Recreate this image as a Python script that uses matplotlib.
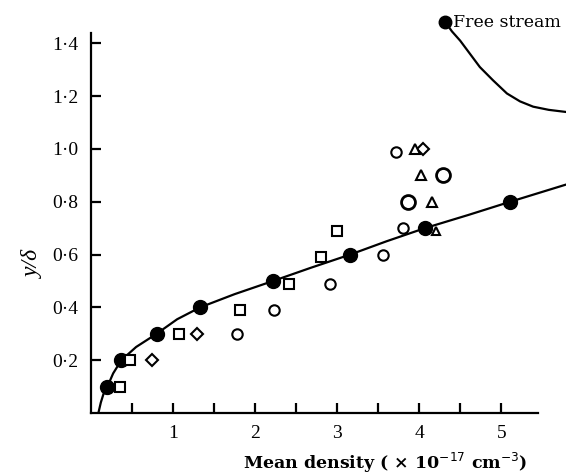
import matplotlib
matplotlib.use('Agg')
import matplotlib.pyplot as plt
from matplotlib.ticker import FixedLocator, FixedFormatter

# Mean density profile across the layer
filled_x = [0.20, 0.37, 0.80, 1.33, 2.22, 3.16, 4.07, 5.11]
filled_y = [0.1, 0.2, 0.3, 0.4, 0.5, 0.6, 0.7, 0.8]

# faired curve through the filled points
curve_x = [0.09, 0.12, 0.15, 0.20, 0.27, 0.37, 0.55, 0.80, 1.05, 1.33, 1.75, 2.22, 2.68, 3.16, 3.60, 4.07, 4.60, 5.11, 5.79]
curve_y = [0.0, 0.04, 0.07, 0.1, 0.15, 0.2, 0.25, 0.3, 0.355, 0.4, 0.45, 0.5, 0.55, 0.6, 0.65, 0.7, 0.75, 0.8, 0.865]

# free stream value and its curve
fs_x = [4.32]
fs_y = [1.48]
fs_curve_x = [4.32, 4.40, 4.50, 4.62, 4.74, 4.90, 5.07, 5.23, 5.39, 5.58, 5.79]
fs_curve_y = [1.48, 1.445, 1.41, 1.36, 1.31, 1.26, 1.21, 1.18, 1.16, 1.148, 1.14]

# other runs
sq_x = [0.35, 0.48, 1.07, 1.82, 2.41, 2.80, 3.00]
sq_y = [0.1, 0.2, 0.3, 0.39, 0.49, 0.59, 0.69]
dia_x = [0.74, 1.29, 4.05]
dia_y = [0.2, 0.3, 1.0]
circ_x = [1.78, 2.23, 2.91, 3.56, 3.80, 3.72]
circ_y = [0.3, 0.39, 0.49, 0.6, 0.7, 0.99]
bigcirc_x = [3.87, 4.29]
bigcirc_y = [0.8, 0.9]
tri_x = [3.95, 4.02, 4.16]
tri_y = [1.0, 0.9, 0.8]
smalltri_x = [4.21]
smalltri_y = [0.69]

xticks = [1, 2, 3, 4, 5]
xminor = [0.5, 1.5, 2.5, 3.5, 4.5]
yticks = [0.2, 0.4, 0.6, 0.8, 1.0, 1.2, 1.4]
ylabels = ['0·2', '0·4', '0·6', '0·8', '1·0', '1·2', '1·4']

serif = ['Liberation Serif', 'DejaVu Serif']

fig = plt.figure(figsize=(5.66, 4.76), dpi=100)
ax = fig.add_axes([91 / 566, 63 / 476, 475 / 566, 413 / 476])
ax.set_xlim(0, 5.79)
ax.set_ylim(0, 1.564)

ax.plot(curve_x, curve_y, color='black', lw=1.6, solid_capstyle='round')
ax.plot(filled_x, filled_y, 'o', color='black', ms=10)
ax.plot(fs_curve_x, fs_curve_y, color='black', lw=1.6)
ax.plot(fs_x, fs_y, 'o', color='black', ms=9)
ax.text(4.41, 1.48, 'Free stream', family=['DejaVu Serif'], fontsize=12.5, va='center', ha='left')

open_kw = dict(linestyle='none', mfc='white', mec='black', mew=1.5)
ax.plot(sq_x, sq_y, 's', ms=6.5, **open_kw)
ax.plot(dia_x, dia_y, 'D', ms=6, **open_kw)
ax.plot(circ_x, circ_y, 'o', ms=7.5, **open_kw)
ax.plot(bigcirc_x, bigcirc_y, 'o', ms=10, mfc='white', mec='black', mew=2, linestyle='none')
ax.plot(tri_x, tri_y, '^', ms=7.5, **open_kw)
ax.plot(smalltri_x, smalltri_y, '^', ms=6, **open_kw)

for side in ['top', 'right']:
    ax.spines[side].set_visible(False)
ax.spines['left'].set_bounds(0, 1.44)
ax.spines['bottom'].set_bounds(0, 5.45)
ax.spines['left'].set_linewidth(1.6)
ax.spines['bottom'].set_linewidth(1.6)

ax.xaxis.set_major_locator(FixedLocator(xticks))
ax.xaxis.set_minor_locator(FixedLocator(xminor))
ax.yaxis.set_major_locator(FixedLocator(yticks))
ax.yaxis.set_major_formatter(FixedFormatter(ylabels))
ax.tick_params(axis='both', which='both', direction='in', length=7, width=1.6)
ax.tick_params(axis='x', which='major', pad=9)
ax.tick_params(axis='y', which='major', pad=9)
for lab in ax.get_xticklabels() + ax.get_yticklabels():
    lab.set_family(serif)
    lab.set_fontsize(14)

ax.set_xlabel('Mean density ( × 10$^{-17}$ cm$^{-3}$)', family=['DejaVu Serif'],
              fontsize=12.5, fontweight='bold')
ax.xaxis.set_label_coords(0.62, -0.092)
ax.set_ylabel('y/δ', family=serif, style='italic', fontsize=17)
ax.yaxis.set_label_coords(-0.10, 0.36)

fig.savefig('out.png', dpi=100)
